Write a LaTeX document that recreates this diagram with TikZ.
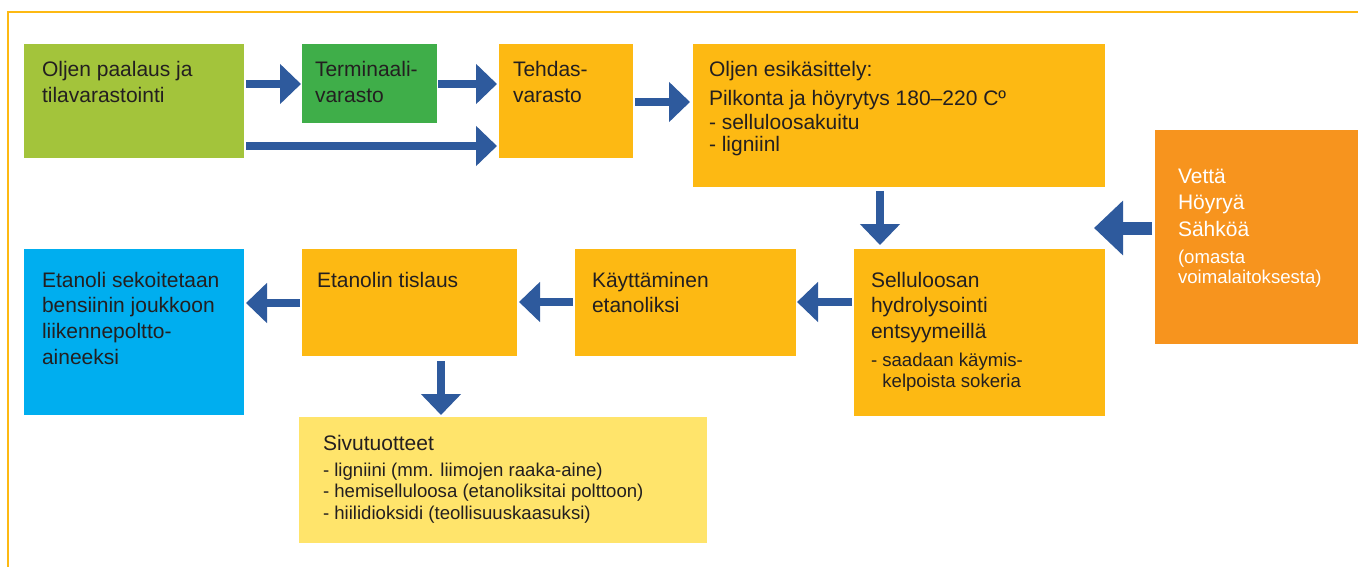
\documentclass[tikz,border=0pt]{standalone}
\usepackage{fontspec}
\setmainfont{Liberation Sans}
\usetikzlibrary{arrows.meta}
\definecolor{lgreen}{HTML}{A3C43B}
\definecolor{dgreen}{HTML}{3FAE49}
\definecolor{gold}{HTML}{FDB913}
\definecolor{orng}{HTML}{F7941E}
\definecolor{cyanb}{HTML}{00AEEF}
\definecolor{lyellow}{HTML}{FFE46B}
\definecolor{arrowblue}{HTML}{2E5A9D}
\definecolor{textcol}{HTML}{231F20}
\newcommand{\bigtxt}{\fontsize{21}{25.7}\selectfont}
\newcommand{\smalltxt}{\fontsize{18.6}{21.3}\selectfont}
\begin{document}
\begin{tikzpicture}[x=1pt,y=-1pt,
  box/.style={anchor=north west, inner sep=0pt, outer sep=0pt, draw=none},
  % anchor is the baseline of the LAST line of the text
  txt/.style={anchor=base west, inner sep=0pt, outer sep=0pt, align=left, text=textcol, font=\bigtxt},
  stxt/.style={txt, font=\smalltxt},
  arr/.style={draw=arrowblue, line width=8pt, -{Triangle[length=21pt,width=39pt]}},
  bigarr/.style={draw=arrowblue, line width=13pt, -{Triangle[length=29pt,width=53pt]}}]
\useasboundingbox (0,0) rectangle (1358,567);
% frame
\draw[gold, line width=2.5pt] (8,567) -- (8,12) -- (1360,12);
% boxes
\node[box, fill=lgreen, minimum width=220pt, minimum height=114pt] (b1) at (24,44) {};
\node[box, fill=dgreen, minimum width=135pt, minimum height=79pt] (b2) at (302,44) {};
\node[box, fill=gold, minimum width=134pt, minimum height=114pt] (b3) at (499,44) {};
\node[box, fill=gold, minimum width=412pt, minimum height=143pt] (b4) at (693,44) {};
\node[box, fill=orng, minimum width=210pt, minimum height=214pt] (b5) at (1155,130) {};
\node[box, fill=gold, minimum width=251pt, minimum height=167pt] (b6) at (854,249) {};
\node[box, fill=gold, minimum width=221pt, minimum height=107pt] (b7) at (575,249) {};
\node[box, fill=gold, minimum width=215pt, minimum height=107pt] (b8) at (302,249) {};
\node[box, fill=cyanb, minimum width=220pt, minimum height=166pt] (b9) at (24,249) {};
\node[box, fill=lyellow, minimum width=408pt, minimum height=126pt] (b10) at (299,417) {};
% texts (positions = baseline of last line)
\node[txt] (t1) at (42,102.7) {Oljen paalaus ja\\tilavarastointi};
\node[txt] (t2) at (315,102.7) {Terminaali-\\varasto};
\node[txt] (t3) at (513,102.7) {Tehdas-\\varasto};
\node[txt, font=\fontsize{21}{21.5}\selectfont] (t4) at (709,151.5) {Oljen esikäsittely:\\[7.5pt]Pilkonta ja höyrytys 180–220 Cº\\[2.5pt]- selluloosakuitu\\- ligniinl};
\node[txt, text=white, font=\fontsize{21}{26.5}\selectfont] (t5a) at (1178,236) {Vettä\\Höyryä\\Sähköä};
\node[stxt, text=white, font=\fontsize{18.6}{20.7}\selectfont] (t5b) at (1178,283.7) {(omasta\\voimalaitoksesta)};
\node[txt] (t6a) at (871,338.4) {Selluloosan\\hydrolysointi\\entsyymeillä};
\node[stxt] (t6b) at (871,387.3) {- saadaan käymis-\\\phantom{- }kelpoista sokeria};
\node[txt] (t7) at (592,312.7) {Käyttäminen\\etanoliksi};
\node[txt] (t8) at (317,287) {Etanolin tislaus};
\node[txt] (t9) at (42,364.1) {Etanoli sekoitetaan\\bensiinin joukkoon\\liikennepoltto-\\aineeksi};
\node[txt] (t10a) at (323,450) {Sivutuotteet};
\node[stxt, font=\fontsize{18.6}{21.5}\selectfont] (t10b) at (323,519) {- ligniini (mm. liimojen raaka-aine)\\- hemiselluloosa (etanoliksitai polttoon)\\- hiilidioksidi (teollisuuskaasuksi)};
% arrows
\coordinate (in6) at (1094,228);
\draw[arr, shorten <=2pt, shorten >=1pt] (b1.east |- 0,84) -- (b2.west |- 0,84);
\draw[arr, shorten <=1pt, shorten >=2pt] (b2.east |- 0,84) -- (b3.west |- 0,84);
\draw[arr, shorten <=2pt, shorten >=2pt] (b1.east |- 0,146) -- (b3.west |- 0,146);
\draw[arr, shorten <=2pt, shorten >=3pt] (b3.east |- 0,102) -- (b4.west |- 0,102);
\draw[arr, shorten <=4pt, shorten >=4pt] (b4.south -| 880,0) -- (b6.north -| 880,0);
\draw[bigarr, shorten <=3pt] (b5.west |- in6) -- (in6);
\draw[arr, shorten <=2pt, shorten >=1pt] (b6.west |- 0,302) -- (b7.east |- 0,302);
\draw[arr, shorten <=2pt, shorten >=2pt] (b7.west |- 0,302) -- (b8.east |- 0,302);
\draw[arr, shorten <=2pt, shorten >=2pt] (b8.west |- 0,303) -- (b9.east |- 0,303);
\draw[arr, shorten <=5pt, shorten >=2pt] (b8.south -| 441,0) -- (b10.north -| 441,0);
\end{tikzpicture}
\end{document}
